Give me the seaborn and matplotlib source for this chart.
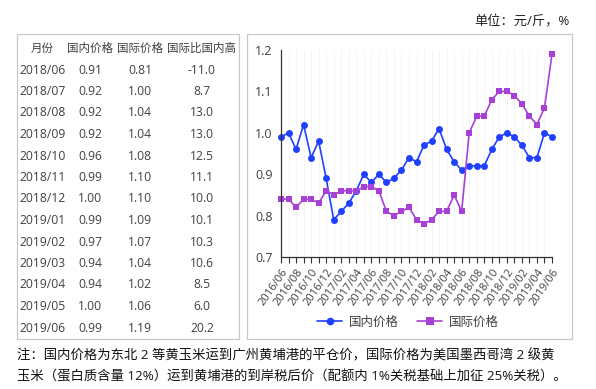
import matplotlib.pyplot as plt
import matplotlib.patches as mpatches
import pandas as pd
import seaborn as sns

# monthly series 2016/06 - 2019/06
months = pd.period_range('2016-06', '2019-06', freq='M').strftime('%Y/%m').tolist()
domestic = [0.99, 1.00, 0.96, 1.02, 0.94, 0.98, 0.89,
            0.79, 0.81, 0.83, 0.86, 0.90, 0.88, 0.90, 0.88, 0.89, 0.91, 0.94, 0.93,
            0.97, 0.98, 1.01, 0.96, 0.93, 0.91, 0.92, 0.92, 0.92, 0.96, 0.99, 1.00,
            0.99, 0.97, 0.94, 0.94, 1.00, 0.99]
intl = [0.84, 0.84, 0.82, 0.84, 0.84, 0.83, 0.86,
        0.85, 0.86, 0.86, 0.86, 0.87, 0.87, 0.86, 0.81, 0.80, 0.81, 0.82, 0.79,
        0.78, 0.79, 0.81, 0.81, 0.85, 0.81, 1.00, 1.04, 1.04, 1.08, 1.10, 1.10,
        1.09, 1.07, 1.04, 1.02, 1.06, 1.19]

# table values
tbl_month = ['2018/06', '2018/07', '2018/08', '2018/09', '2018/10', '2018/11', '2018/12',
             '2019/01', '2019/02', '2019/03', '2019/04', '2019/05', '2019/06']
tbl_dom = ['0.91', '0.92', '0.92', '0.92', '0.96', '0.99', '1.00',
           '0.99', '0.97', '0.94', '0.94', '1.00', '0.99']
tbl_intl = ['0.81', '1.00', '1.04', '1.04', '1.08', '1.10', '1.10',
            '1.09', '1.07', '1.04', '1.02', '1.06', '1.19']
tbl_diff = ['-11.0', '8.7', '13.0', '13.0', '12.5', '11.1', '10.0',
            '10.1', '10.3', '10.6', '8.5', '6.0', '20.2']
tbl_head = ['月份', '国内价格', '国际价格', '国际比国内高']

sns.set_style('white')
plt.rcParams['font.family'] = ['Open Sans', 'Noto Sans CJK SC', 'DejaVu Sans']
plt.rcParams['axes.unicode_minus'] = False

n = len(months)
df = pd.DataFrame({
    'x': list(range(n)) * 2,
    'price': domestic + intl,
    'series': ['国内价格'] * n + ['国际价格'] * n,
})

W, H = 596, 389
fig = plt.figure(figsize=(W / 100, H / 100), dpi=100)

# panel boxes
def px_rect(x0, y0, x1, y1):
    fig.patches.append(mpatches.Rectangle((x0 / W, 1 - y1 / H), (x1 - x0) / W, (y1 - y0) / H,
                                          transform=fig.transFigure, fill=False,
                                          edgecolor='#c8c8c8', linewidth=0.9))

px_rect(17, 34, 239, 339)
px_rect(247, 34, 572, 339)

txt = '#404040'
# table
col_x = [42, 90, 140, 202]
for j in range(4):
    fig.text(col_x[j] / W, 1 - 48 / H, tbl_head[j], ha='center', va='center', fontsize=8.3, color=txt)
for i in range(len(tbl_month)):
    y = 1 - (70 + i * 21.5) / H
    fig.text(19 / W, y, tbl_month[i], ha='left', va='center', fontsize=8.7, color=txt)
    fig.text(col_x[1] / W, y, tbl_dom[i], ha='center', va='center', fontsize=8.7, color=txt)
    fig.text(col_x[2] / W, y, tbl_intl[i], ha='center', va='center', fontsize=8.7, color=txt)
    fig.text(col_x[3] / W, y, tbl_diff[i], ha='center', va='center', fontsize=8.7, color=txt)

# chart
ax = fig.add_axes([281 / W, 1 - 257 / H, (552 - 281) / W, (257 - 50) / H])
sns.lineplot(data=df, x='x', y='price', hue='series', style='series',
             markers={'国内价格': 'o', '国际价格': 's'}, dashes=False,
             palette={'国内价格': '#2040ff', '国际价格': '#a640d6'},
             markersize=5, markeredgewidth=0, linewidth=1.2, ax=ax, legend=False,
             clip_on=False)
ax.set_xlim(0, n - 1)
ax.set_ylim(0.7, 1.2)
ax.set_yticks([0.7, 0.8, 0.9, 1.0, 1.1, 1.2])
ax.set_yticklabels(['0.7', '0.8', '0.9', '1.0', '1.1', '1.2'], fontsize=9, color=txt)
ax.set_xticks(range(n))
ax.set_xticklabels([m if i % 2 == 0 else '' for i, m in enumerate(months)],
                   rotation=55, ha='right', rotation_mode='anchor', fontsize=8, color=txt)
ax.tick_params(axis='x', length=4, width=0.8, color='#333333', pad=3, direction='out', bottom=True)
ax.tick_params(axis='y', length=0, pad=6)
ax.set_xlabel('')
ax.set_ylabel('')
for s in ['top', 'right']:
    ax.spines[s].set_visible(False)
for s in ['left', 'bottom']:
    ax.spines[s].set_color('#333333')
    ax.spines[s].set_linewidth(0.9)
ax.grid(axis='x', color='#f3f3f3', linewidth=0.6)
ax.set_axisbelow(True)

handles = [plt.Line2D([], [], color='#2040ff', marker='o', markersize=5.5, markeredgewidth=0, linewidth=1.2),
           plt.Line2D([], [], color='#a640d6', marker='s', markersize=5.5, markeredgewidth=0, linewidth=1.2)]
fig.legend(handles, ['国内价格', '国际价格'], loc='center', bbox_to_anchor=(408 / W, 1 - 322 / H),
           ncol=2, frameon=False, fontsize=9, handlelength=2.0, columnspacing=1.5,
           labelcolor=txt, handletextpad=0.5)

fig.text(570 / W, 1 - 21 / H, '单位：元/斤，%', ha='right', va='center', fontsize=9.5, color='#222222')
fig.text(17 / W, 1 - 356 / H,
         '注：国内价格为东北 2 等黄玉米运到广州黄埔港的平仓价，国际价格为美国墨西哥湾 2 级黄',
         ha='left', va='center', fontsize=9.6, color='#111111')
fig.text(17 / W, 1 - 377 / H,
         '玉米（蛋白质含量 12%）运到黄埔港的到岸税后价（配额内 1%关税基础上加征 25%关税）。',
         ha='left', va='center', fontsize=9.6, color='#111111')

fig.savefig('out.png', dpi=100)
